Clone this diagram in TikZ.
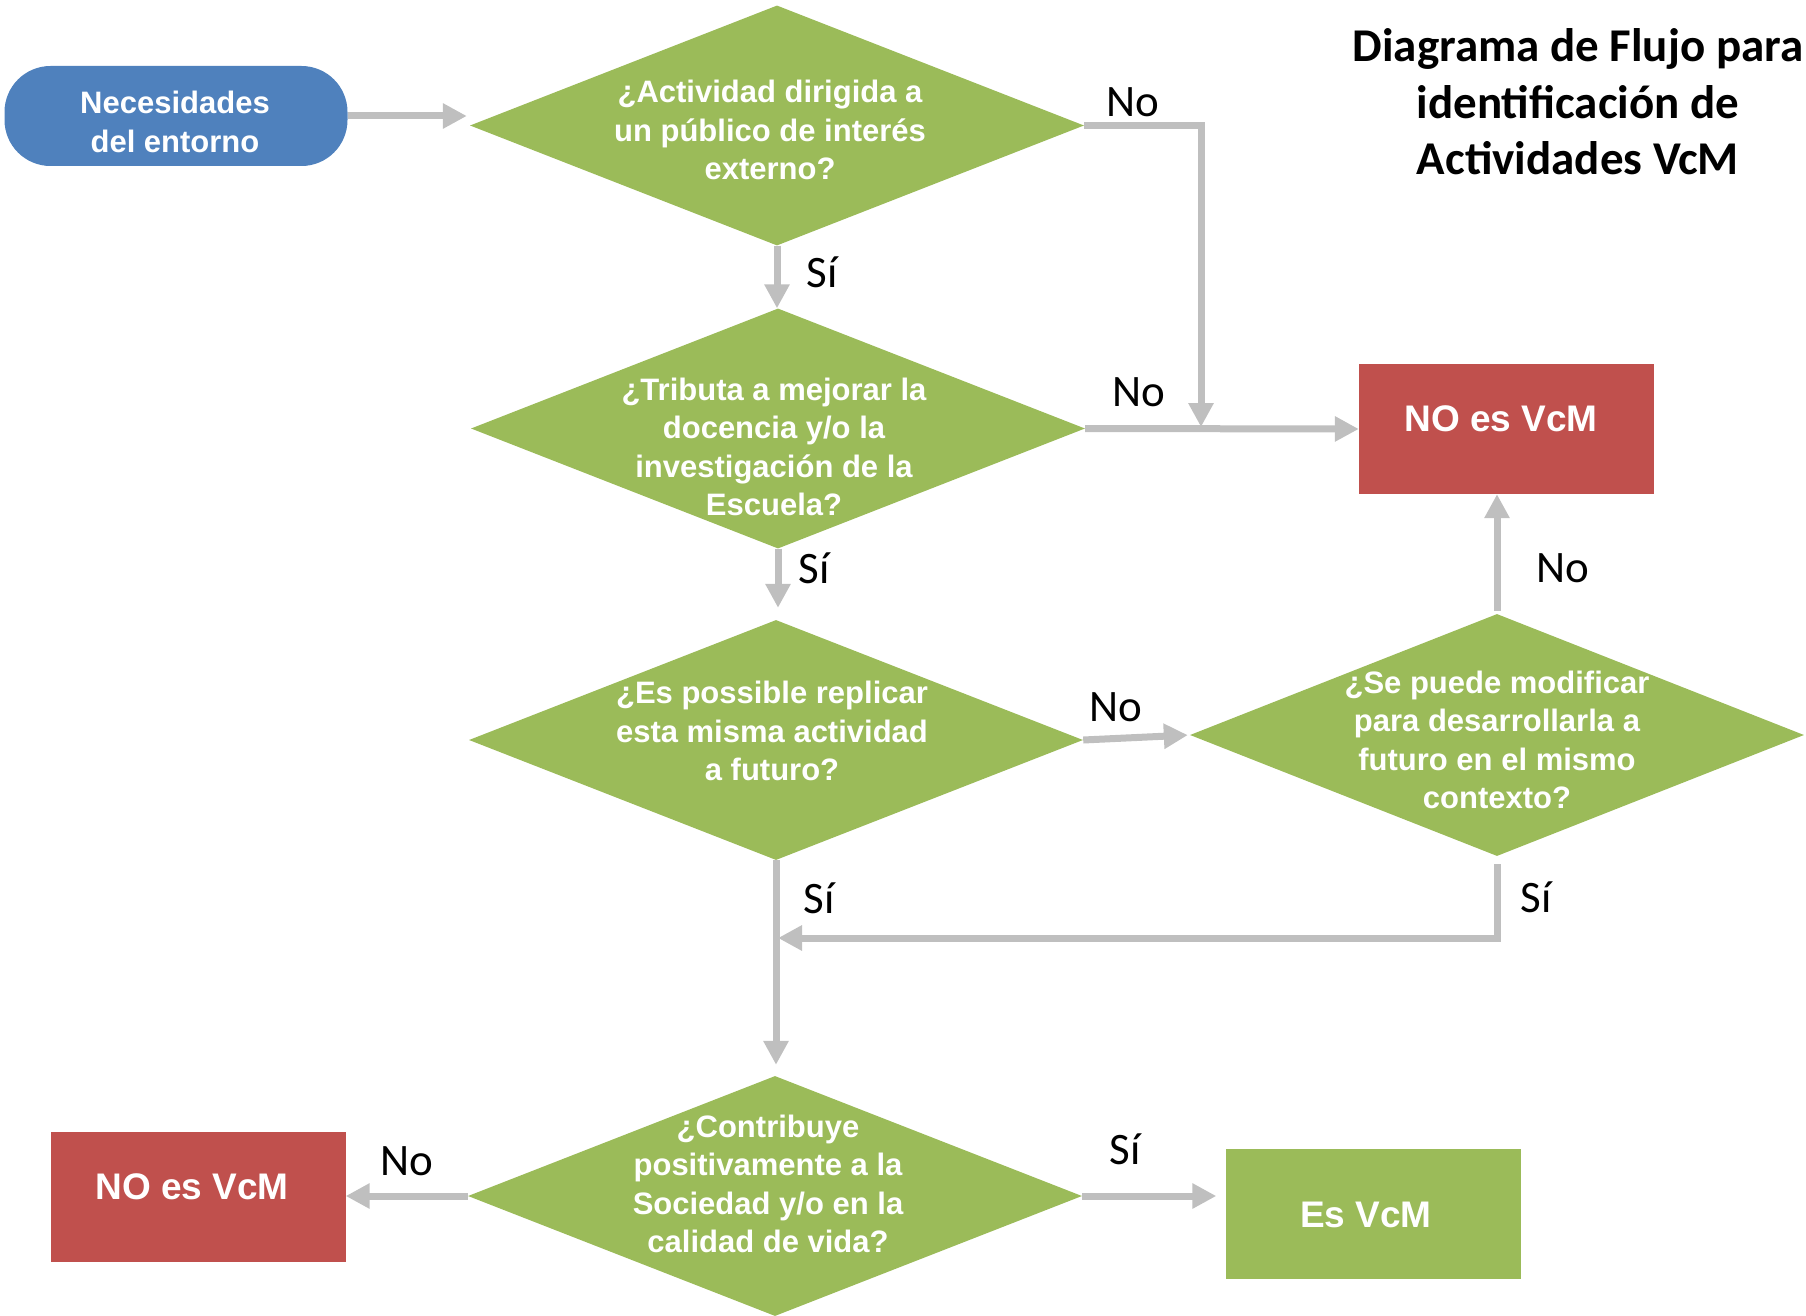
\documentclass[tikz,border=0pt]{standalone}
\usepackage{fontspec}
\setmainfont{Carlito}
\newfontfamily\arialf{Liberation Sans}
\usetikzlibrary{shapes.geometric,arrows.meta}
\definecolor{vgreen}{HTML}{9BBB59}
\definecolor{vred}{HTML}{C0504D}
\definecolor{vblue}{HTML}{4F81BD}
\definecolor{vgray}{HTML}{BFBFBF}
\tikzset{
  dia/.style={shape=diamond,fill=vgreen,draw=none,inner sep=0pt,minimum width=614pt,minimum height=240pt},
  dtext/.style={text=white,align=center,font=\arialf\bfseries\fontsize{31}{38.4}\selectfont,inner sep=0pt},
  boxred/.style={fill=vred,draw=none,minimum width=295pt,minimum height=130pt,inner sep=0pt},
  boxgreen/.style={fill=vgreen,draw=none,minimum width=295pt,minimum height=130pt,inner sep=0pt},
  btext/.style={text=white,font=\arialf\bfseries\fontsize{37}{44}\selectfont,inner sep=0pt},
  lbl/.style={font=\fontsize{45}{54}\selectfont,inner sep=0pt},
  conn/.style={draw=vgray,line width=7pt,-{Triangle[length=24pt,width=24pt]}},
}
\begin{document}
\begin{tikzpicture}[x=1pt,y=-1pt]
\useasboundingbox (0,0) rectangle (1806,1316);
% start
\node[fill=vblue,rounded corners=46pt,minimum width=343pt,minimum height=100pt,inner sep=0pt] (nec) at (176,116) {};
\node[text=white,align=center,font=\arialf\bfseries\fontsize{31}{38.4}\selectfont,inner sep=0pt] (nect) at (175,122) {Necesidades\\del entorno};
% diamonds
\node[dia] (d1) at (777,125.5) {};
\node[dtext] (t1) at (770,130) {¿Actividad dirigida a\\un público de interés\\externo?};
\node[dia] (d2) at (778,428.5) {};
\node[dtext] (t2) at (774,447) {¿Tributa a mejorar la\\docencia y/o la\\investigación de la\\Escuela?};
\node[dia] (d3) at (776,740) {};
\node[dtext] (t3) at (772,731) {¿Es possible replicar\\esta misma actividad\\a futuro?};
\node[dia,minimum height=242pt] (d4) at (1497,735) {};
\node[dtext] (t4) at (1497,740) {¿Se puede modificar\\para desarrollarla a\\futuro en el mismo\\contexto?};
\node[dia] (d5) at (775,1196) {};
\node[dtext] (t5) at (768,1184) {¿Contribuye\\positivamente a la\\Sociedad y/o en la\\calidad de vida?};
% result boxes
\node[boxred] (no1) at (1506.5,429) {};
\node[btext] (no1t) at (1501,419) {NO es VcM};
\node[boxred] (no2) at (198,1197) {};
\node[btext] (no2t) at (192,1187) {NO es VcM};
\node[boxgreen] (es) at (1373,1214) {};
\node[btext] (est) at (1366,1215) {Es VcM};
% title
\node[align=center,font=\bfseries\fontsize{47}{56.5}\selectfont,inner sep=0pt] (title) at (1578,102) {Diagrama de Flujo para\\identificación de\\Actividades VcM};
% junction coordinates
\coordinate (j1) at (1201,427);
\coordinate (j3) at (778,938);
% connectors
\draw[conn,shorten >=3pt] (nec.east) -- (nec.east -| d1.west);
\draw[conn] (d1.south) -- (d1.south |- d2.north);
\draw[conn] (d1.east) -| (j1);
\draw[conn] (d2.east) -- (no1.west);
\draw[conn,shorten >=12pt] (d2.south) -- (d2.south |- d3.north);
\draw[conn,shorten >=2pt] (d3.east) -- (d4.west);
\draw[conn,shorten <=3pt] (d4.north) -- (d4.north |- no1.south);
\draw[conn,shorten <=8pt] (d4.south) |- (j3);
\draw[conn,shorten >=11pt] (d3.south) -- (d3.south |- d5.north);
\draw[conn] (d5.west) -- (d5.west -| no2.east);
\draw[conn,shorten >=9pt] (d5.east) -- (d5.east -| es.west);
% labels
\node[lbl] (l1) at (1133,102) {No};
\node[lbl] (l2) at (822,272) {Sí};
\node[lbl] (l3) at (1139,392) {No};
\node[lbl] (l4) at (814,568) {Sí};
\node[lbl] (l5) at (1116,707) {No};
\node[lbl] (l6) at (1563,568) {No};
\node[lbl] (l7) at (819,898) {Sí};
\node[lbl] (l8) at (1536,897) {Sí};
\node[lbl] (l9) at (407,1161) {No};
\node[lbl] (l10) at (1125,1149) {Sí};
\end{tikzpicture}
\end{document}
